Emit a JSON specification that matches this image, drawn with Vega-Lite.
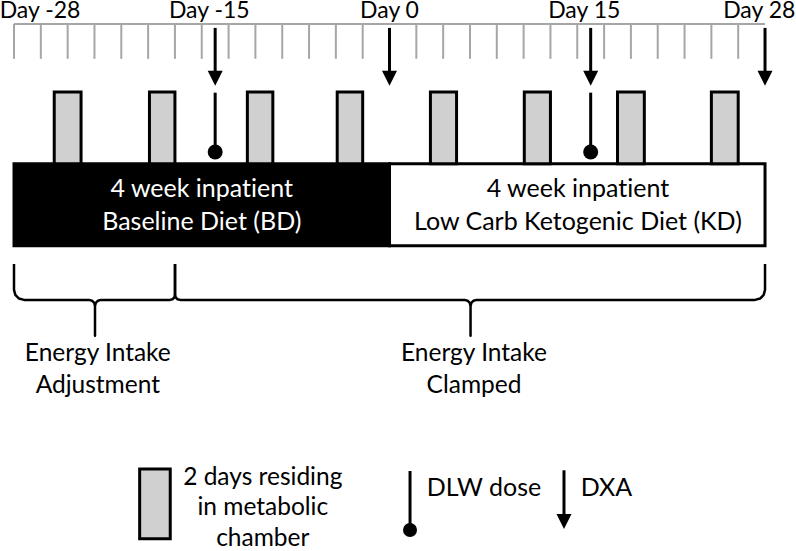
{
  "$schema": "https://vega.github.io/schema/vega-lite/v6.json",
  "width": 796,
  "height": 551,
  "padding": 0,
  "autosize": {"type": "fit", "contains": "padding"},
  "background": "white",
  "config": {"view": {"stroke": null}, "text": {"font": "Lato", "fontVariant": "no-common-ligatures"}},
  "datasets": {
    "timeline": [{"start": -28, "end": 28}],
    "ticks": [{"day": -28}, {"day": -26}, {"day": -24}, {"day": -22}, {"day": -20}, {"day": -18}, {"day": -16}, {"day": -14}, {"day": -12}, {"day": -10}, {"day": -8}, {"day": -6}, {"day": -4}, {"day": -2}, {"day": 2}, {"day": 4}, {"day": 6}, {"day": 8}, {"day": 10}, {"day": 12}, {"day": 14}, {"day": 16}, {"day": 18}, {"day": 20}, {"day": 22}, {"day": 24}, {"day": 26}],
    "dxa": [{"day": -13}, {"day": 0}, {"day": 15}, {"day": 28}],
    "dlw": [{"day": -13}, {"day": 15}],
    "chamber": [{"start": -25, "end": -23}, {"start": -17.9, "end": -16}, {"start": -10.6, "end": -8.7}, {"start": -3.9, "end": -2}, {"start": 3.05, "end": 5}, {"start": 10.05, "end": 12}, {"start": 17, "end": 19}, {"start": 24, "end": 26}],
    "phases": [
      {"start": -28, "end": 0, "mid": -14, "title": "4 week inpatient", "diet": "Baseline Diet (BD)"},
      {"start": 0, "end": 28, "mid": 14.05, "title": "4 week inpatient", "diet": "Low Carb Ketogenic Diet (KD)"}
    ],
    "dayLabels": [
      {"day": -26.06, "label": "Day -28"},
      {"day": -13.44, "label": "Day -15"},
      {"day": 0, "label": "Day 0"},
      {"day": 14.52, "label": "Day 15"},
      {"day": 27.57, "label": "Day 28"}
    ],
    "braces": [
      {"brace": "adjustment", "seq": 1, "day": -28, "y": 264},
      {"brace": "adjustment", "seq": 2, "day": -28, "y": 290},
      {"brace": "adjustment", "seq": 3, "day": -27.9, "y": 295},
      {"brace": "adjustment", "seq": 4, "day": -27.627, "y": 298.66},
      {"brace": "adjustment", "seq": 5, "day": -27.254, "y": 300},
      {"brace": "adjustment", "seq": 6, "day": -22.407, "y": 300},
      {"brace": "adjustment", "seq": 7, "day": -22.183, "y": 300.8},
      {"brace": "adjustment", "seq": 8, "day": -22.019, "y": 303},
      {"brace": "adjustment", "seq": 9, "day": -21.96, "y": 306},
      {"brace": "adjustment", "seq": 10, "day": -21.96, "y": 336},
      {"brace": "adjustment", "seq": 11, "day": -21.96, "y": 306},
      {"brace": "adjustment", "seq": 12, "day": -21.9, "y": 303},
      {"brace": "adjustment", "seq": 13, "day": -21.736, "y": 300.8},
      {"brace": "adjustment", "seq": 14, "day": -21.512, "y": 300},
      {"brace": "adjustment", "seq": 15, "day": -16.367, "y": 300},
      {"brace": "adjustment", "seq": 16, "day": -16.181, "y": 299.33},
      {"brace": "adjustment", "seq": 17, "day": -16.044, "y": 297.5},
      {"brace": "adjustment", "seq": 18, "day": -15.994, "y": 295},
      {"brace": "adjustment", "seq": 19, "day": -15.994, "y": 264},
      {"brace": "clamped", "seq": 1, "day": -15.994, "y": 264},
      {"brace": "clamped", "seq": 2, "day": -15.994, "y": 295},
      {"brace": "clamped", "seq": 3, "day": -15.944, "y": 297.5},
      {"brace": "clamped", "seq": 4, "day": -15.808, "y": 299.33},
      {"brace": "clamped", "seq": 5, "day": -15.621, "y": 300},
      {"brace": "clamped", "seq": 6, "day": 5.594, "y": 300},
      {"brace": "clamped", "seq": 7, "day": 5.818, "y": 300.8},
      {"brace": "clamped", "seq": 8, "day": 5.982, "y": 303},
      {"brace": "clamped", "seq": 9, "day": 6.042, "y": 306},
      {"brace": "clamped", "seq": 10, "day": 6.042, "y": 336},
      {"brace": "clamped", "seq": 11, "day": 6.042, "y": 306},
      {"brace": "clamped", "seq": 12, "day": 6.101, "y": 303},
      {"brace": "clamped", "seq": 13, "day": 6.265, "y": 300.8},
      {"brace": "clamped", "seq": 14, "day": 6.489, "y": 300},
      {"brace": "clamped", "seq": 15, "day": 27.257, "y": 300},
      {"brace": "clamped", "seq": 16, "day": 27.63, "y": 298.66},
      {"brace": "clamped", "seq": 17, "day": 27.9, "y": 295},
      {"brace": "clamped", "seq": 18, "day": 28, "y": 290},
      {"brace": "clamped", "seq": 19, "day": 28, "y": 264}
    ],
    "braceLabels": [
      {"day": -21.75, "label": "Energy Intake\nAdjustment"},
      {"day": 6.3, "label": "Energy Intake\nClamped"}
    ],
    "legendChamber": [{"start": -18.63, "end": -16.35, "label": "2 days residing\nin metabolic\nchamber", "textDay": -9.45}],
    "legendDLW": [{"day": 1.53}],
    "legendDXA": [{"day": 13.01}],
    "legendText": [{"day": 2.78, "label": "DLW dose"}, {"day": 14.26, "label": "DXA"}]
  },
  "layer": [
    {
      "data": {"name": "timeline"},
      "mark": {"type": "rule", "color": "#a6a6a6", "strokeWidth": 2},
      "encoding": {
        "x": {"field": "start", "type": "quantitative", "scale": {"type": "linear", "domain": [-29.044, 30.31], "nice": false, "zero": false}, "axis": null},
        "x2": {"field": "end"},
        "y": {"datum": 23, "type": "quantitative", "scale": {"type": "linear", "domain": [0, 551], "reverse": true, "nice": false, "zero": false}, "axis": null}
      }
    },
    {
      "data": {"name": "ticks"},
      "mark": {"type": "rule", "color": "#a6a6a6", "strokeWidth": 2},
      "encoding": {
        "x": {"field": "day", "type": "quantitative"},
        "y": {"datum": 23, "type": "quantitative"},
        "y2": {"datum": 58}
      }
    },
    {
      "data": {"name": "phases"},
      "mark": {"type": "rect", "stroke": "black", "strokeWidth": 3},
      "encoding": {
        "x": {"field": "start", "type": "quantitative"},
        "x2": {"field": "end"},
        "y": {"datum": 163.3, "type": "quantitative"},
        "y2": {"datum": 245.7},
        "fill": {"field": "diet", "type": "nominal", "scale": {"domain": ["Baseline Diet (BD)", "Low Carb Ketogenic Diet (KD)"], "range": ["#000000", "#ffffff"]}, "legend": null}
      }
    },
    {
      "data": {"name": "chamber"},
      "mark": {"type": "rect", "fill": "#d0d0d0", "stroke": "black", "strokeWidth": 3},
      "encoding": {
        "x": {"field": "start", "type": "quantitative"},
        "x2": {"field": "end"},
        "y": {"datum": 91.3, "type": "quantitative"},
        "y2": {"datum": 163.3}
      }
    },
    {
      "data": {"name": "dxa"},
      "mark": {"type": "rule", "color": "black", "strokeWidth": 3},
      "encoding": {
        "x": {"field": "day", "type": "quantitative"},
        "y": {"datum": 27, "type": "quantitative"},
        "y2": {"datum": 72}
      }
    },
    {
      "data": {"name": "dxa"},
      "mark": {"type": "point", "shape": "M-1,-1L1,-1L0,1Z", "size": 225, "filled": true, "color": "black", "opacity": 1, "strokeWidth": 0},
      "encoding": {
        "x": {"field": "day", "type": "quantitative"},
        "y": {"datum": 77.5, "type": "quantitative"}
      }
    },
    {
      "data": {"name": "dlw"},
      "mark": {"type": "rule", "color": "black", "strokeWidth": 3},
      "encoding": {
        "x": {"field": "day", "type": "quantitative"},
        "y": {"datum": 92, "type": "quantitative"},
        "y2": {"datum": 146}
      }
    },
    {
      "data": {"name": "dlw"},
      "mark": {"type": "point", "shape": "circle", "size": 225, "filled": true, "color": "black", "opacity": 1, "strokeWidth": 0},
      "encoding": {
        "x": {"field": "day", "type": "quantitative"},
        "y": {"datum": 151.5, "type": "quantitative"}
      }
    },
    {
      "data": {"name": "braces"},
      "mark": {"type": "line", "color": "black", "strokeWidth": 2.5, "strokeJoin": "round"},
      "encoding": {
        "x": {"field": "day", "type": "quantitative"},
        "y": {"field": "y", "type": "quantitative"},
        "detail": {"field": "brace", "type": "nominal"},
        "order": {"field": "seq", "type": "quantitative"}
      }
    },
    {
      "data": {"name": "dayLabels"},
      "mark": {"type": "text", "fontSize": 23, "align": "center", "baseline": "alphabetic", "color": "black", "fontVariant": "no-common-ligatures"},
      "encoding": {
        "x": {"field": "day", "type": "quantitative"},
        "y": {"datum": 17.5, "type": "quantitative"},
        "text": {"field": "label"}
      }
    },
    {
      "data": {"name": "phases"},
      "mark": {"type": "text", "fontSize": 25, "align": "center", "baseline": "alphabetic", "fontVariant": "no-common-ligatures"},
      "encoding": {
        "x": {"field": "mid", "type": "quantitative"},
        "y": {"datum": 196.7, "type": "quantitative"},
        "text": {"field": "title"},
        "color": {"field": "diet", "type": "nominal", "scale": {"domain": ["Baseline Diet (BD)", "Low Carb Ketogenic Diet (KD)"], "range": ["#ffffff", "#000000"]}, "legend": null}
      }
    },
    {
      "data": {"name": "phases"},
      "mark": {"type": "text", "fontSize": 25, "align": "center", "baseline": "alphabetic", "fontVariant": "no-common-ligatures"},
      "encoding": {
        "x": {"field": "mid", "type": "quantitative"},
        "y": {"datum": 230, "type": "quantitative"},
        "text": {"field": "diet"},
        "color": {"field": "diet", "type": "nominal", "legend": null}
      }
    },
    {
      "data": {"name": "braceLabels"},
      "mark": {"type": "text", "fontSize": 24.5, "align": "center", "baseline": "alphabetic", "lineBreak": "\n", "lineHeight": 32, "color": "black", "fontVariant": "no-common-ligatures"},
      "encoding": {
        "x": {"field": "day", "type": "quantitative"},
        "y": {"datum": 361.7, "type": "quantitative"},
        "text": {"field": "label"}
      }
    },
    {
      "data": {"name": "legendChamber"},
      "mark": {"type": "rect", "fill": "#d0d0d0", "stroke": "black", "strokeWidth": 3},
      "encoding": {
        "x": {"field": "start", "type": "quantitative"},
        "x2": {"field": "end"},
        "y": {"datum": 469.7, "type": "quantitative"},
        "y2": {"datum": 539.7}
      }
    },
    {
      "data": {"name": "legendChamber"},
      "mark": {"type": "text", "fontSize": 24.5, "align": "center", "baseline": "alphabetic", "lineBreak": "\n", "lineHeight": 30.5, "color": "black", "fontVariant": "no-common-ligatures"},
      "encoding": {
        "x": {"field": "textDay", "type": "quantitative"},
        "y": {"datum": 485.7, "type": "quantitative"},
        "text": {"field": "label"}
      }
    },
    {
      "data": {"name": "legendDLW"},
      "mark": {"type": "rule", "color": "black", "strokeWidth": 3},
      "encoding": {
        "x": {"field": "day", "type": "quantitative"},
        "y": {"datum": 471.7, "type": "quantitative"},
        "y2": {"datum": 526}
      }
    },
    {
      "data": {"name": "legendDLW"},
      "mark": {"type": "point", "shape": "circle", "size": 196, "filled": true, "color": "black", "opacity": 1, "strokeWidth": 0},
      "encoding": {
        "x": {"field": "day", "type": "quantitative"},
        "y": {"datum": 531, "type": "quantitative"}
      }
    },
    {
      "data": {"name": "legendDXA"},
      "mark": {"type": "rule", "color": "black", "strokeWidth": 3},
      "encoding": {
        "x": {"field": "day", "type": "quantitative"},
        "y": {"datum": 471, "type": "quantitative"},
        "y2": {"datum": 517}
      }
    },
    {
      "data": {"name": "legendDXA"},
      "mark": {"type": "point", "shape": "M-1,-1L1,-1L0,1Z", "size": 225, "filled": true, "color": "black", "opacity": 1, "strokeWidth": 0},
      "encoding": {
        "x": {"field": "day", "type": "quantitative"},
        "y": {"datum": 522.5, "type": "quantitative"}
      }
    },
    {
      "data": {"name": "legendText"},
      "mark": {"type": "text", "fontSize": 25, "align": "left", "baseline": "alphabetic", "color": "black", "fontVariant": "no-common-ligatures"},
      "encoding": {
        "x": {"field": "day", "type": "quantitative"},
        "y": {"datum": 496.7, "type": "quantitative"},
        "text": {"field": "label"}
      }
    }
  ]
}
